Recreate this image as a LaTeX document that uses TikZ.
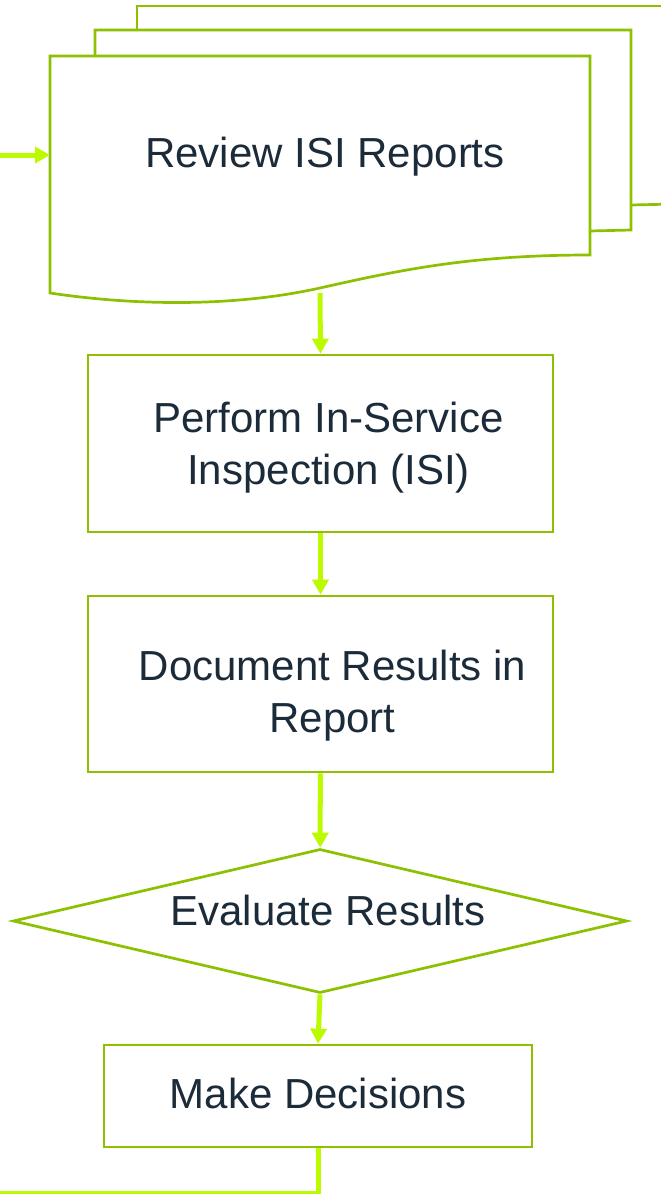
\documentclass[tikz,border=0pt]{standalone}
\usepackage{fontspec}
\setmainfont{Liberation Sans}
\usepackage{xcolor}
\usetikzlibrary{shapes.geometric,arrows.meta,positioning,calc}
\definecolor{boxgreen}{RGB}{141,192,0}
\definecolor{arrowgreen}{RGB}{188,250,0}
\definecolor{textnavy}{RGB}{28,43,57}

\begin{document}
\begin{tikzpicture}[x=1pt,y=-1pt,
  steptext/.style={align=center, text=textnavy, font=\fontsize{42}{52}\selectfont, inner sep=0pt},
  procbox/.style={rectangle, draw=boxgreen, line width=2.7pt, fill=white, inner sep=0pt},
  decision/.style={diamond, draw=boxgreen, line width=2.7pt, fill=white, inner sep=0pt, aspect=4.26},
  flow/.style={draw=arrowgreen, line width=5pt, -{Triangle[width=16pt,length=15pt]}},
  link/.style={draw=arrowgreen, line width=5pt}]
  \useasboundingbox (0,0) rectangle (661,1194);
  % stacked report pages
  \draw[boxgreen, line width=2.7pt, fill=white] (137,30) -- (137,6) -- (675,6);
  \draw[boxgreen, line width=2.7pt] (631,205) -- (675,204);
  \draw[boxgreen, line width=2.7pt, fill=white] (95,56) -- (95,30) -- (631,30) -- (631,230) -- (590,231);
  \draw[boxgreen, line width=2.7pt, fill=white] (50,56) -- (590,56) -- (590,255)
    .. controls (470,255) and (400,270) .. (320,288)
    .. controls (230,308) and (130,305) .. (50,293) -- cycle;
  \node[steptext] (review) at (325,157) {Review ISI Reports};
  \coordinate (docin) at (50,155);
  \coordinate (docout) at (320,293);
  \coordinate (start) at (0,155);
  \coordinate (finish) at (0,1193);
  % process steps
  \node[procbox, minimum width=465pt, minimum height=177pt,
    label={[steptext, xshift=8pt, yshift=-4pt]center:Perform In-Service\\Inspection (ISI)}] (inspect) at (320.5,443.5) {};
  \node[procbox, minimum width=465pt, minimum height=176pt,
    label={[steptext, xshift=12pt, yshift=-12pt]center:Document Results in\\Report}] (report) at (320.5,684) {};
  \node[decision, minimum width=614pt, minimum height=144pt,
    label={[steptext, xshift=8pt, yshift=11pt]center:Evaluate Results}] (evaluate) at (320,921) {};
  \node[procbox, minimum width=428pt, minimum height=102pt,
    label={[steptext, yshift=3pt]center:Make Decisions}] (decide) at (318,1096) {};
  % connectors
  \draw[flow] (start) -- (docin);
  \draw[flow] (docout) -- (inspect.north);
  \draw[flow] (inspect) -- (report);
  \draw[flow] (report) -- (evaluate);
  \draw[flow] (evaluate.south) -- (decide.north);
  \draw[link] (decide.south) |- (finish);
\end{tikzpicture}
\end{document}
